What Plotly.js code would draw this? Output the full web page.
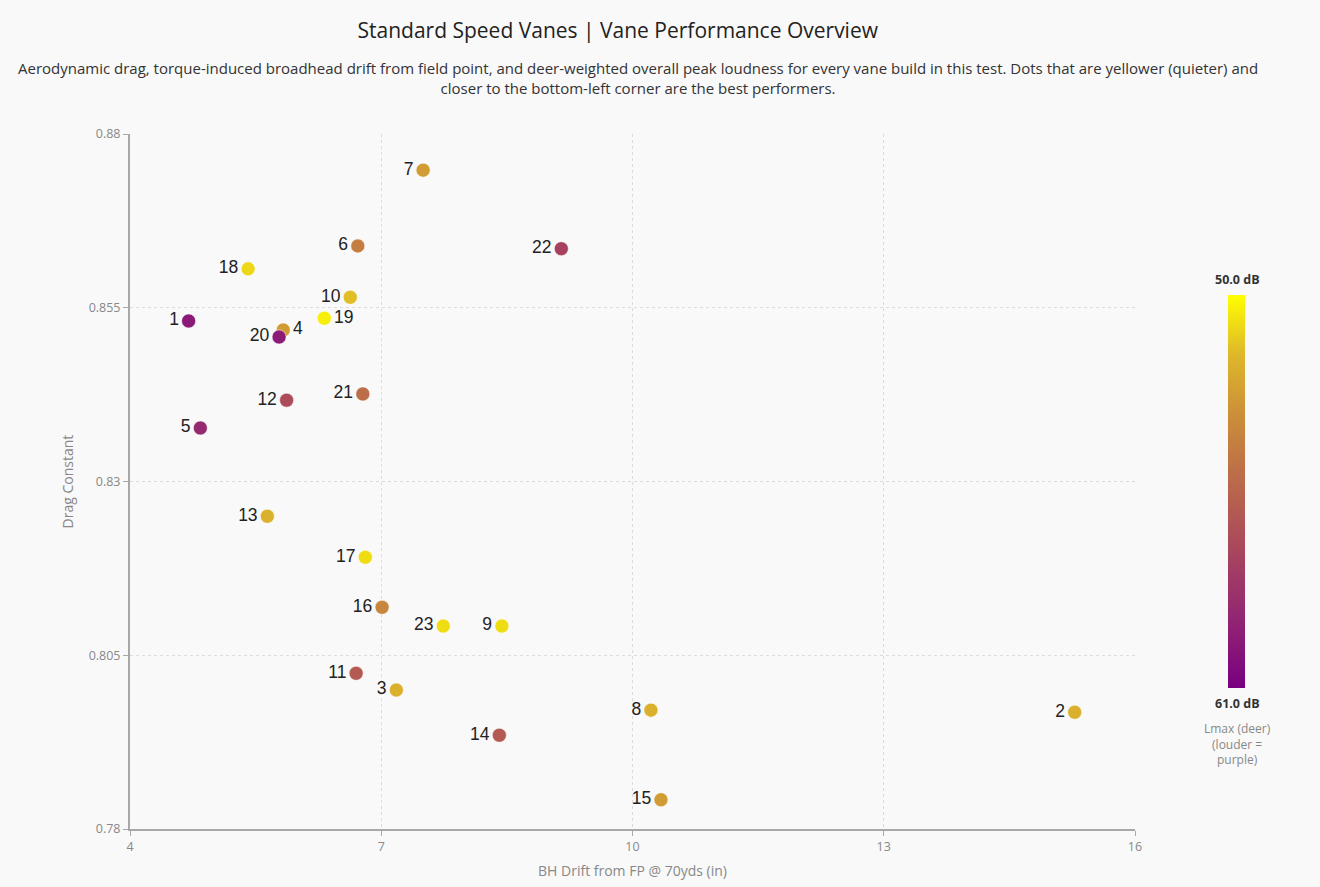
<!DOCTYPE html>
<html>
<head>
<meta charset="utf-8">
<script src="https://cdn.plot.ly/plotly-3.0.1.min.js"></script>
<style>
  html, body { margin: 0; padding: 0; background: #f9f9f9; }
  #chart { width: 1320px; height: 887px; }
</style>
</head>
<body>
<div id="chart"></div>
<script>
// vane builds
const vaneIds = ['1', '2', '3', '4', '5', '6', '7', '8', '9', '10', '11', '12',
  '13', '14', '15', '16', '17', '18', '19', '20', '21', '22', '23']
// BH drift from field point @ 70yds (in)
const bhDrift = [4.70, 15.28, 7.18, 5.83, 4.84, 6.72, 7.50, 10.22, 8.44, 6.63, 6.70, 5.87,
  5.64, 8.41, 10.34, 7.01, 6.81, 5.41, 6.32, 5.78, 6.78, 9.15, 7.74]
// drag constant
const dragConst = [0.8531, 0.7968, 0.8000, 0.8518, 0.8377, 0.8639, 0.8748, 0.7971, 0.8092, 0.8565, 0.8024, 0.8417,
  0.8250, 0.7935, 0.7842, 0.8119, 0.8191, 0.8606, 0.8535, 0.8508, 0.8426, 0.8635, 0.8092]
// Lmax (deer-weighted), dB
const lmaxDb = [59.7, 52.0, 52.0, 52.8, 58.8, 54.2, 52.8, 52.0, 50.8, 51.5, 56.0, 56.8,
  52.0, 56.0, 52.8, 53.8, 50.8, 50.9, 50.4, 59.6, 55.0, 57.4, 50.8]

const dbMin = 50
const dbMax = 61

// louder = purple at the bottom, quieter = yellow at the top
const vaneScale = [
  [0, '#780080'],
  [0.2, '#962a70'],
  [0.38, '#ac4c5a'],
  [0.55, '#bd6f48'],
  [0.7, '#cc9038'],
  [0.85, '#deb82a'],
  [1, '#ffff00']
]

const fontMain = '"Open Sans", "Noto Sans", sans-serif'

// a few labels sit to the right so they do not collide
const labelSide = vaneIds.map(id => (id === '4' || id === '19') ? 'middle right' : 'middle left')

const trace = {
  x: bhDrift,
  y: dragConst,
  text: vaneIds,
  mode: 'markers+text',
  type: 'scatter',
  textposition: labelSide,
  textfont: { family: 'Liberation Sans, Arial, sans-serif', size: 17.5, color: '#222' },
  hoverinfo: 'skip',
  marker: {
    size: 14,
    // negate so the colorbar runs 61 dB at the bottom up to 50 dB at the top
    color: lmaxDb.map(v => -v),
    cmin: -dbMax,
    cmax: -dbMin,
    colorscale: vaneScale,
    line: { width: 1, color: 'rgba(255,255,255,0.5)' },
    colorbar: {
      x: 1.0925,
      xanchor: 'left',
      y: 0.486,
      yanchor: 'middle',
      len: 0.565,
      lenmode: 'fraction',
      ypad: 0,
      xpad: 0,
      thickness: 17,
      outlinewidth: 0,
      showticklabels: false,
      ticks: ''
    }
  }
}

const layout = {
  width: 1320,
  height: 887,
  paper_bgcolor: '#f9f9f9',
  plot_bgcolor: '#f9f9f9',
  margin: { l: 130, r: 185, t: 134, b: 58 },
  showlegend: false,
  title: {
    text: 'Standard Speed Vanes | Vane Performance Overview',
    x: 0.468,
    xanchor: 'center',
    y: 0.965,
    yanchor: 'middle',
    font: { family: fontMain, size: 21, color: '#222' }
  },
  xaxis: {
    range: [4, 16],
    tickvals: [4, 7, 10, 13, 16],
    showline: true,
    linecolor: '#a8a8a8',
    linewidth: 2,
    ticks: 'outside',
    ticklen: 5,
    tickcolor: '#a8a8a8',
    gridcolor: '#dcdcdc',
    griddash: 'dot',
    zeroline: false,
    tickfont: { family: fontMain, size: 12.5, color: '#888' },
    title: {
      text: 'BH Drift from FP @ 70yds (in)',
      standoff: 12,
      font: { family: fontMain, size: 14, color: '#888' }
    }
  },
  yaxis: {
    range: [0.78, 0.88],
    tickvals: [0.78, 0.805, 0.83, 0.855, 0.88],
    ticktext: ['0.78', '0.805', '0.83', '0.855', '0.88'],
    showline: true,
    linecolor: '#a8a8a8',
    linewidth: 2,
    ticks: 'outside',
    ticklen: 5,
    tickcolor: '#a8a8a8',
    gridcolor: '#dcdcdc',
    griddash: 'dot',
    zeroline: false,
    tickfont: { family: fontMain, size: 12.5, color: '#888' },
    title: {
      text: 'Drag Constant',
      standoff: 12,
      font: { family: fontMain, size: 14, color: '#888' }
    }
  },
  annotations: [
    {
      text: 'Aerodynamic drag, torque-induced broadhead drift from field point, and deer-weighted overall peak loudness for every vane build in this test. Dots that are yellower (quieter) and<br>closer to the bottom-left corner are the best performers.',
      xref: 'paper',
      yref: 'paper',
      x: 0.5055,
      y: 1.08,
      xanchor: 'center',
      yanchor: 'middle',
      showarrow: false,
      align: 'center',
      font: { family: fontMain, size: 15, color: '#333' }
    },
    {
      text: '<b>' + dbMin.toFixed(1) + ' dB</b>',
      xref: 'paper',
      yref: 'paper',
      x: 1.1015,
      y: 0.79,
      xanchor: 'center',
      yanchor: 'middle',
      showarrow: false,
      font: { family: fontMain, size: 12.5, color: '#333' }
    },
    {
      text: '<b>' + dbMax.toFixed(1) + ' dB</b>',
      xref: 'paper',
      yref: 'paper',
      x: 1.1015,
      y: 0.18,
      xanchor: 'center',
      yanchor: 'middle',
      showarrow: false,
      font: { family: fontMain, size: 12.5, color: '#333' }
    },
    {
      text: 'Lmax (deer)<br>(louder =<br>purple)',
      xref: 'paper',
      yref: 'paper',
      x: 1.1015,
      y: 0.16,
      xanchor: 'center',
      yanchor: 'top',
      showarrow: false,
      align: 'center',
      font: { family: fontMain, size: 12, color: '#888' }
    }
  ]
}

Plotly.newPlot('chart', [trace], layout, { displayModeBar: false, staticPlot: true })
</script>
</body>
</html>
